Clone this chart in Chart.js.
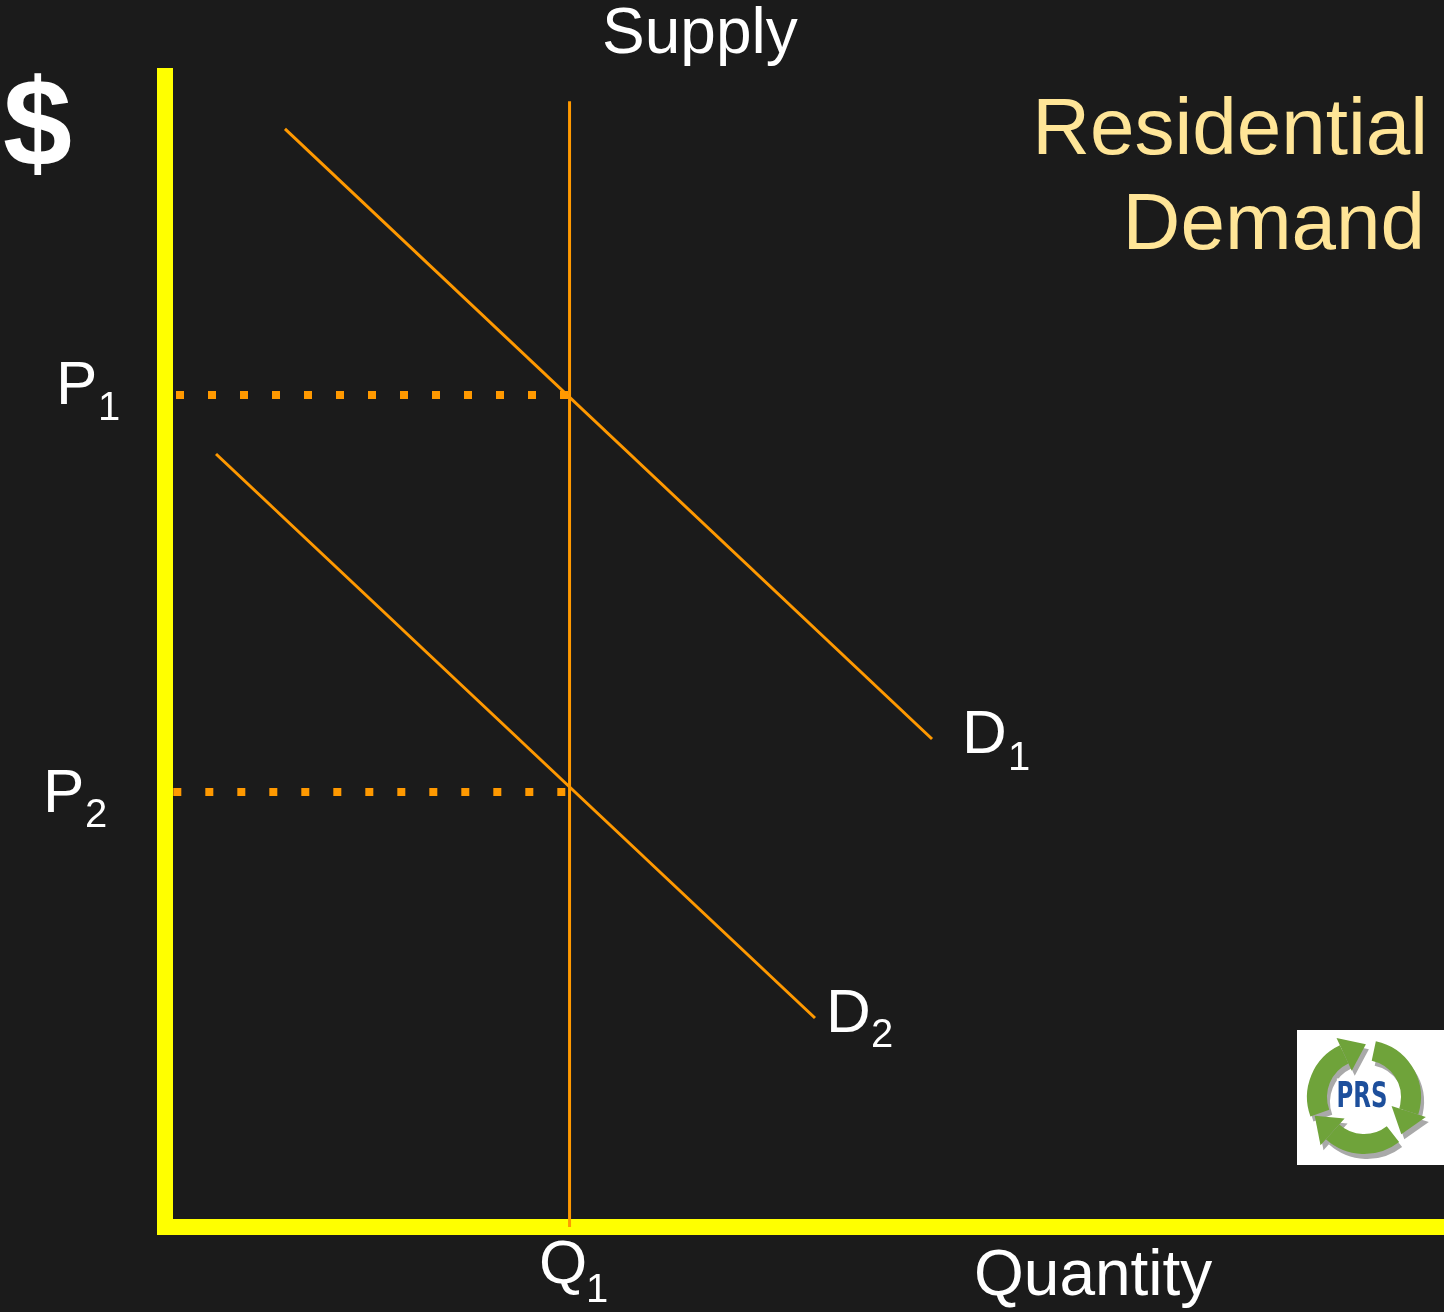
<!DOCTYPE html>
<html>
<head>
<meta charset="utf-8">
<script src="https://cdn.jsdelivr.net/npm/chart.js@4.4.1/dist/chart.umd.min.js"></script>
<style>
    html, body { margin: 0; padding: 0; background: #1b1b1b; }
    #wrap { width: 1444px; height: 1312px; position: relative; }
</style>
</head>
<body>
<div id="wrap"><canvas id="chart"></canvas></div>
<script>
// quantity (x) and price (y), both on a 0..100 scale
const supplyX = [31.63, 31.63];
const supplyY = [0, 97.8];
const demand1X = [9.38, 59.97];
const demand1Y = [95.4, 42.4];
const demand2X = [3.99, 50.82];
const demand2Y = [67.16, 18.16];
const priceLevels = [72.28, 37.79];      // P1, P2
const priceStartX = [0.86, 0.65];        // where the dotted guides begin
const quantityQ1 = 31.63;

const ORANGE = '#FF9900';
const YELLOW = '#FFFF00';
const FONT = '"Liberation Sans", Arial, sans-serif';

const pts = (xs, ys) => xs.map((x, i) => ({ x, y: ys[i] }));

const lineDs = (data, extra = {}) => ({
    data, borderColor: ORANGE, borderWidth: 3, pointRadius: 0, tension: 0, fill: false, ...extra
});

const datasets = [
    lineDs(pts(supplyX, supplyY)),
    lineDs(pts(demand1X, demand1Y)),
    lineDs(pts(demand2X, demand2Y)),
    ...priceLevels.map((p, i) => lineDs(
        [{ x: priceStartX[i], y: p }, { x: quantityQ1, y: p }],
        { borderWidth: 8, borderDash: [8, 24], borderCapStyle: 'butt' }
    ))
];

// ── text + logo ──────────────────────────────────────────────────────────────

function sub(ctx, main, s, x, y, sx, sy) {
    ctx.font = `62px ${FONT}`;
    ctx.fillText(main, x, y);
    ctx.font = `40px ${FONT}`;
    ctx.fillText(s, sx, sy);
}

function drawLogo(ctx) {
    ctx.save();
    ctx.fillStyle = '#ffffff';
    ctx.fillRect(1297, 1030, 147, 135);
    const cx = 1364, cy = 1097, R = 47, W = 20;
    const arrows = [[160, 245], [282, 18], [52, 132]];
    const deg = d => d * Math.PI / 180;
    const arrow = (a0, a1, color, dx, dy) => {
        ctx.strokeStyle = color;
        ctx.fillStyle = color;
        ctx.lineWidth = W;
        ctx.lineCap = 'butt';
        ctx.beginPath();
        ctx.arc(cx + dx, cy + dy, R, deg(a0), deg(a1));
        ctx.stroke();
        const a = deg(a1);
        const tx = -Math.sin(a), ty = Math.cos(a);
        const ox = cx + dx + R * Math.cos(a), oy = cy + dy + R * Math.sin(a);
        ctx.beginPath();
        ctx.moveTo(ox + Math.cos(a) * 18, oy + Math.sin(a) * 18);
        ctx.lineTo(ox + tx * 24, oy + ty * 24);
        ctx.lineTo(ox - Math.cos(a) * 18, oy - Math.sin(a) * 18);
        ctx.closePath();
        ctx.fill();
    };
    arrows.forEach(([a0, a1]) => arrow(a0, a1, '#a9a9a9', 3, 5));
    arrows.forEach(([a0, a1]) => arrow(a0, a1, '#6fa33a', 0, 0));
    ctx.translate(cx - 2, cy + 1);
    ctx.scale(0.85, 1.2);
    ctx.font = `bold 30px "Liberation Sans Narrow", "DejaVu Sans Condensed", sans-serif`;
    ctx.textAlign = 'center';
    ctx.textBaseline = 'middle';
    ctx.lineWidth = 4;
    ctx.strokeStyle = '#ffffff';
    ctx.strokeText('PRS', 0, 0);
    ctx.fillStyle = '#1d4f9c';
    ctx.fillText('PRS', 0, 0);
    ctx.restore();
}

const labels = {
    id: 'labels',
    afterDraw(chart) {
        const ctx = chart.ctx;
        ctx.save();
        ctx.fillStyle = '#ffffff';
        ctx.textBaseline = 'alphabetic';
        ctx.textAlign = 'left';

        ctx.font = `bold 124px ${FONT}`;
        ctx.fillText('$', 3, 166);

        ctx.font = `64px ${FONT}`;
        ctx.fillText('Supply', 602, 53);
        ctx.fillText('Quantity', 974, 1295);

        sub(ctx, 'P', '1', 56, 404, 98, 420);
        sub(ctx, 'P', '2', 43, 812, 85, 827);
        sub(ctx, 'D', '1', 962, 753, 1008, 770);
        sub(ctx, 'D', '2', 826, 1032, 871, 1047);
        sub(ctx, 'Q', '1', 539, 1283, 586, 1302);

        ctx.fillStyle = '#FFE597';
        ctx.textAlign = 'right';
        ctx.font = `80px ${FONT}`;
        ctx.fillText('Residential', 1428, 154);
        ctx.fillText('Demand', 1425, 249);
        ctx.restore();

        drawLogo(ctx);
    }
};

new Chart(document.getElementById('chart'), {
    type: 'line',
    data: { datasets },
    options: {
        responsive: true, maintainAspectRatio: false, animation: false,
        layout: { padding: { top: 76, right: 0, left: 0, bottom: 0 } },
        plugins: { legend: { display: false }, tooltip: { enabled: false } },
        scales: {
            x: {
                type: 'linear', min: 0, max: 100,
                grid: { display: false, lineWidth: 12 },
                ticks: { display: false },
                border: { display: true, color: YELLOW, width: 16 },
                afterFit: s => { s.height = 85; }
            },
            y: {
                type: 'linear', min: 0, max: 100,
                grid: { display: false, lineWidth: 12 },
                ticks: { display: false },
                border: { display: true, color: YELLOW, width: 16 },
                afterFit: s => { s.width = 165; }
            }
        }
    },
    plugins: [labels]
});
</script>
</body>
</html>
